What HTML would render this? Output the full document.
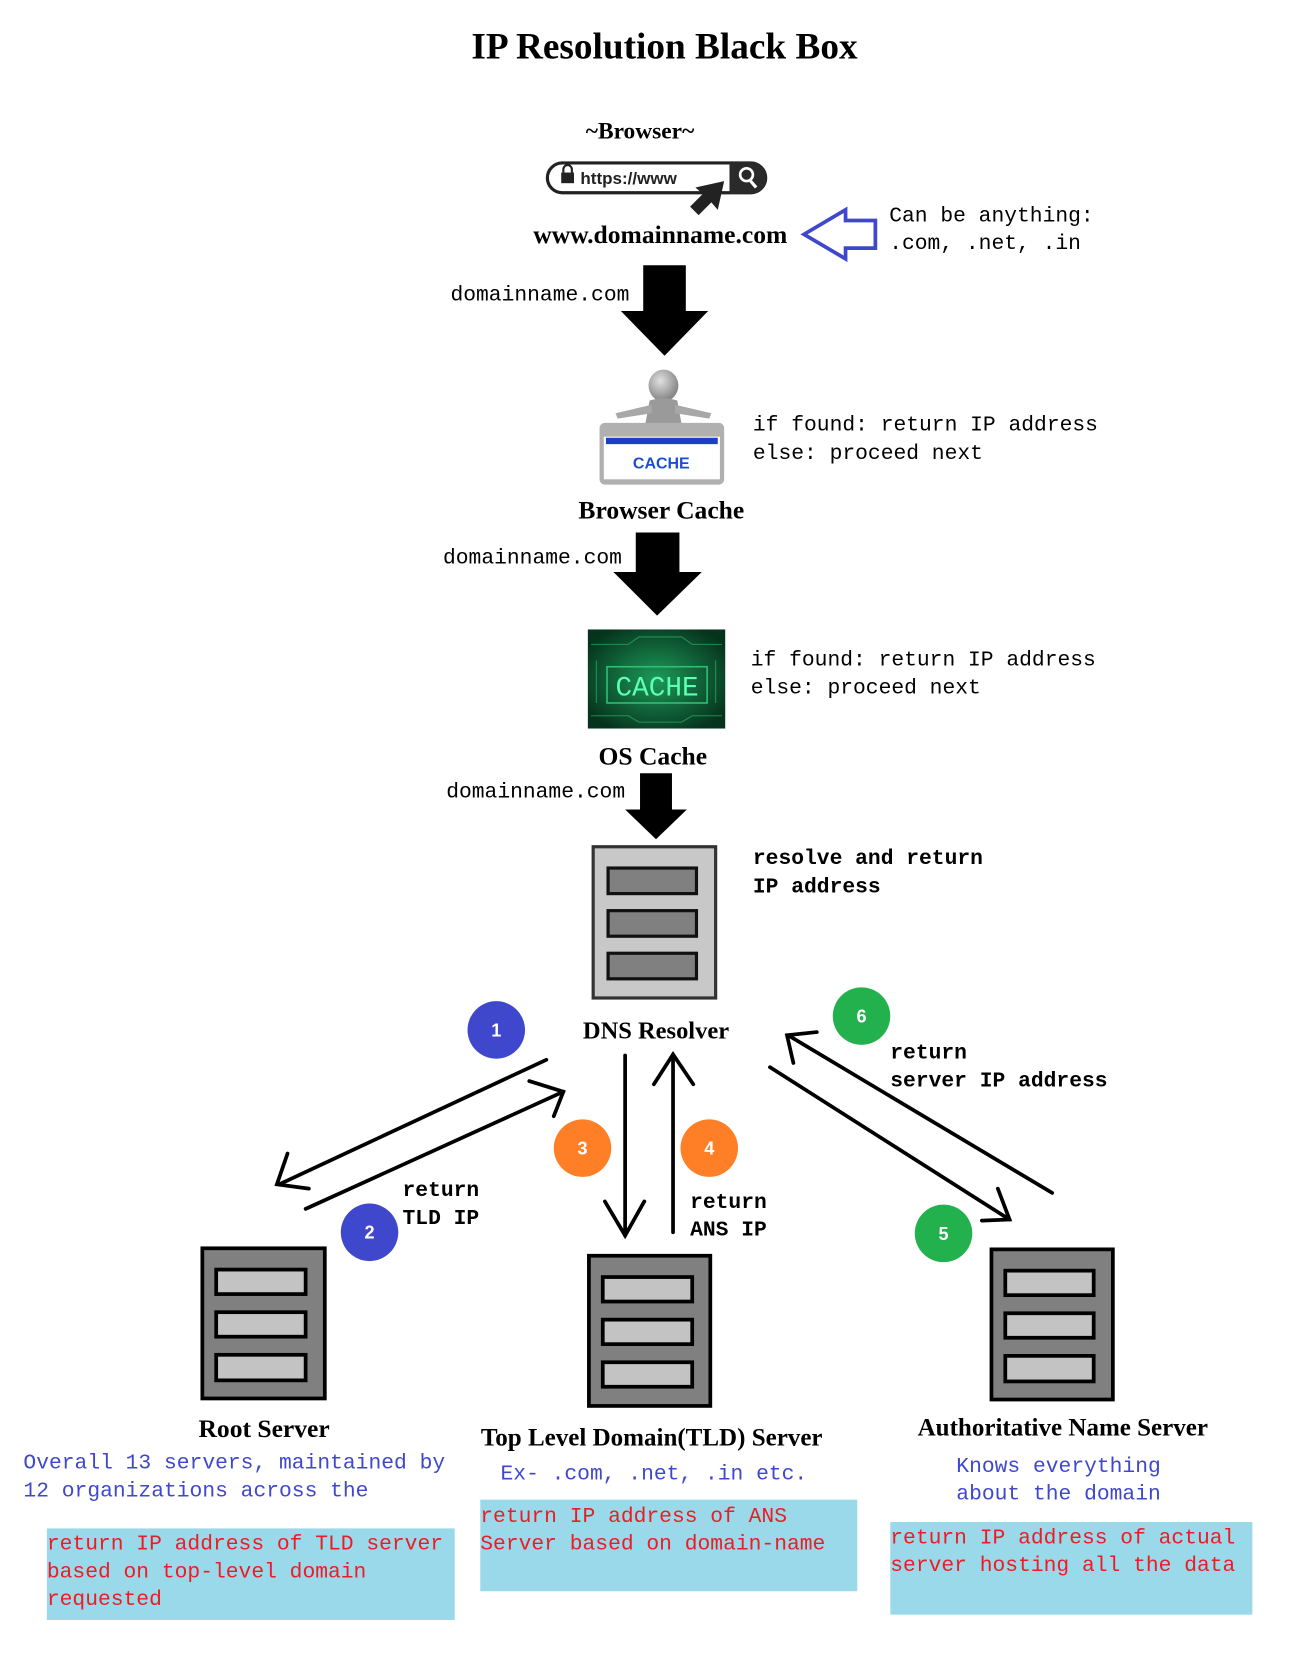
<!DOCTYPE html>
<html><head><meta charset="utf-8"><style>
html,body{margin:0;padding:0;background:#fff;}
svg{display:block;}
.ser{font-family:"Liberation Serif",serif;font-weight:bold;fill:#000;}
.mono{font-family:"Liberation Mono",monospace;font-size:20px;}
</style></head><body>
<svg width="1312" height="1669" viewBox="0 0 1232 1567" preserveAspectRatio="none" xmlns="http://www.w3.org/2000/svg">
<defs>
<radialGradient id="g1" cx="50%" cy="50%" r="60%"><stop offset="0" stop-color="#1c9a5a"/><stop offset="1" stop-color="#06331c"/></radialGradient>
<radialGradient id="hd" cx="40%" cy="35%" r="60%"><stop offset="0" stop-color="#e0e0e0"/><stop offset="1" stop-color="#8a8a8a"/></radialGradient>
</defs>
<text x="624" y="55" text-anchor="middle" class="ser" font-size="35">IP Resolution Black Box</text>
<text x="601" y="130" text-anchor="middle" class="ser" font-size="22">~Browser~</text>
<!-- URL bar -->
<rect x="514" y="153" width="205" height="28" rx="14" fill="#fff" stroke="#222" stroke-width="3"/>
<path d="M685 152 H705 A15 15 0 0 1 705 182 H685 Z" fill="#2a2a2a"/>
<circle cx="701" cy="164" r="6" fill="none" stroke="#fff" stroke-width="2.5"/>
<line x1="704" y1="169" x2="710" y2="176" stroke="#fff" stroke-width="3"/>
<rect x="527" y="162" width="12" height="10" fill="#222"/>
<path d="M529 162 v-3 a4 4 0 0 1 8 0 v3" fill="none" stroke="#222" stroke-width="2"/>
<text x="545" y="173" font-family="Liberation Sans,sans-serif" font-weight="bold" font-size="16" fill="#222">https://www</text>
<path d="M680 170 L674 197 L668 190 L656 202 L648 194 L660 182 L653 176 Z" fill="#222"/>
<text x="620" y="228" text-anchor="middle" class="ser" font-size="24">www.domainname.com</text>
<!-- blue hollow arrow -->
<path d="M755 220 L794 197 L794 207 L822 207 L822 233 L794 233 L794 243 Z" fill="#fff" stroke="#3f48cc" stroke-width="3.5"/>
<text x="835" y="208" class="mono">Can be anything:</text>
<text x="835" y="234" class="mono">.com, .net, .in</text>
<!-- arrow 1 -->
<path d="M604 249 H644 V292 H665 L624 334 L583 292 H604 Z" fill="#000"/>
<text x="423" y="282" class="mono">domainname.com</text>
<!-- browser cache icon -->
<ellipse cx="623" cy="362" rx="14" ry="15" fill="url(#hd)"/>
<path d="M610 376 Q623 372 636 376 L640 398 H606 Z" fill="#9a9a9a"/>
<path d="M612 380 L578 388 L580 393 L612 388 Z M634 380 L668 388 L666 393 L634 388 Z" fill="#a8a8a8"/>
<rect x="563" y="397" width="117" height="58" rx="5" fill="#b0b0b0"/>
<rect x="567" y="410" width="109" height="40" fill="#fff"/>
<rect x="569" y="411" width="105" height="6" fill="#1a3fc4"/>
<text x="621" y="440" text-anchor="middle" font-family="Liberation Sans,sans-serif" font-weight="bold" font-size="15" fill="#1a4fd0">CACHE</text>
<text x="707" y="404" class="mono">if found: return IP address</text>
<text x="707" y="431" class="mono">else: proceed next</text>
<text x="621" y="487" text-anchor="middle" class="ser" font-size="24">Browser Cache</text>
<!-- arrow 2 -->
<path d="M597 500 H638 V537 H659 L617 578 L576 537 H597 Z" fill="#000"/>
<text x="416" y="529" class="mono">domainname.com</text>
<!-- OS cache -->
<rect x="552" y="591" width="129" height="93" fill="url(#g1)"/>
<g stroke="#2fbf73" stroke-width="1" fill="none" opacity="0.6">
<path d="M555 605 H590 L600 598 H640 L650 605 H678"/><path d="M555 672 H590 L600 678 H640 L650 672 H678"/>
<path d="M560 620 V660"/><path d="M672 620 V660"/>
</g>
<rect x="570" y="626" width="94" height="34" fill="none" stroke="#2fbf73" stroke-width="1.5"/>
<text x="617" y="653" text-anchor="middle" font-family="Liberation Mono,monospace" font-size="26" fill="#5dffb0">CACHE</text>
<text x="705" y="625" class="mono">if found: return IP address</text>
<text x="705" y="651" class="mono">else: proceed next</text>
<text x="613" y="718" text-anchor="middle" class="ser" font-size="24">OS Cache</text>
<!-- arrow 3 -->
<path d="M601 726 H631 V760 H645 L616 788 L587 760 H601 Z" fill="#000"/>
<text x="419" y="749" class="mono">domainname.com</text>
<!-- DNS resolver -->
<rect x="557" y="795" width="115" height="142" fill="#c8c8c8" stroke="#333" stroke-width="3"/>
<rect x="571" y="815" width="83" height="24" fill="#808080" stroke="#111" stroke-width="3"/>
<rect x="571" y="855" width="83" height="24" fill="#808080" stroke="#111" stroke-width="3"/>
<rect x="571" y="895" width="83" height="24" fill="#808080" stroke="#111" stroke-width="3"/>
<text x="707" y="811" class="mono" font-weight="bold">resolve and return</text>
<text x="707" y="838" class="mono" font-weight="bold">IP address</text>
<text x="616" y="975" text-anchor="middle" class="ser" font-size="23">DNS Resolver</text>
<!-- connectors -->
<g stroke="#000" stroke-width="3.5" fill="none" stroke-linecap="round">
<line x1="513" y1="995" x2="262" y2="1112"/><polyline points="270,1083 260,1112 290,1116"/>
<line x1="287" y1="1135" x2="529" y2="1025"/><polyline points="497,1015 529,1025 520,1048"/>
<line x1="587" y1="991" x2="587" y2="1160"/><polyline points="568,1128 587,1160 605,1128"/>
<line x1="632" y1="1157" x2="632" y2="990"/><polyline points="614,1018 632,990 651,1018"/>
<line x1="988" y1="1120" x2="740" y2="972"/><polyline points="745,998 739,972 767,969"/>
<line x1="723" y1="1002" x2="948" y2="1145"/><polyline points="937,1116 948,1145 922,1146"/>
</g>
<!-- circles -->
<g font-family="Liberation Sans,sans-serif" font-weight="bold" font-size="17" fill="#fff" text-anchor="middle">
<circle cx="466" cy="967" r="27" fill="#3f48cc"/><text x="466" y="973">1</text>
<circle cx="809" cy="954" r="27" fill="#22b14c"/><text x="809" y="960">6</text>
<circle cx="547" cy="1078" r="27" fill="#ff7f27"/><text x="547" y="1084">3</text>
<circle cx="666" cy="1078" r="27" fill="#ff7f27"/><text x="666" y="1084">4</text>
<circle cx="347" cy="1157" r="27" fill="#3f48cc"/><text x="347" y="1163">2</text>
<circle cx="886" cy="1158" r="27" fill="#22b14c"/><text x="886" y="1164">5</text>
</g>
<text x="836" y="994" class="mono" font-weight="bold">return</text>
<text x="836" y="1020" class="mono" font-weight="bold">server IP address</text>
<text x="378" y="1123" class="mono" font-weight="bold">return</text>
<text x="378" y="1149" class="mono" font-weight="bold">TLD IP</text>
<text x="648" y="1134" class="mono" font-weight="bold">return</text>
<text x="648" y="1160" class="mono" font-weight="bold">ANS IP</text>
<!-- bottom servers -->
<g stroke="#000" stroke-width="3.5">
<rect x="190" y="1172" width="115" height="141" fill="#808080"/>
<rect x="203" y="1192" width="84" height="23" fill="#c3c3c3"/>
<rect x="203" y="1232" width="84" height="23" fill="#c3c3c3"/>
<rect x="203" y="1272" width="84" height="24" fill="#c3c3c3"/>
<rect x="553" y="1179" width="114" height="141" fill="#808080"/>
<rect x="566" y="1199" width="84" height="23" fill="#c3c3c3"/>
<rect x="566" y="1239" width="84" height="23" fill="#c3c3c3"/>
<rect x="566" y="1279" width="84" height="23" fill="#c3c3c3"/>
<rect x="931" y="1173" width="114" height="141" fill="#808080"/>
<rect x="944" y="1193" width="83" height="23" fill="#c3c3c3"/>
<rect x="944" y="1233" width="83" height="23" fill="#c3c3c3"/>
<rect x="944" y="1273" width="83" height="24" fill="#c3c3c3"/>
</g>
<text x="248" y="1349" text-anchor="middle" class="ser" font-size="24">Root Server</text>
<text x="612" y="1357" text-anchor="middle" class="ser" font-size="23.5">Top Level Domain(TLD) Server</text>
<text x="998" y="1348" text-anchor="middle" class="ser" font-size="23.5">Authoritative Name Server</text>
<g class="mono" fill="#3f48cc">
<text x="22" y="1379">Overall 13 servers, maintained by</text>
<text x="22" y="1405">12 organizations across the</text>
<text x="470" y="1389">Ex- .com, .net, .in etc.</text>
<text x="898" y="1382">Knows everything</text>
<text x="898" y="1408">about the domain</text>
</g>
<rect x="44" y="1435" width="383" height="86" fill="#99d9ea"/>
<rect x="451" y="1408" width="354" height="86" fill="#99d9ea"/>
<rect x="836" y="1429" width="340" height="87" fill="#99d9ea"/>
<g class="mono" fill="#ed1c24">
<text x="44" y="1455">return IP address of TLD server</text>
<text x="44" y="1481">based on top-level domain</text>
<text x="44" y="1507">requested</text>
<text x="451" y="1429">return IP address of ANS</text>
<text x="451" y="1455">Server based on domain-name</text>
<text x="836" y="1449">return IP address of actual</text>
<text x="836" y="1475">server hosting all the data</text>
</g>
</svg>
</body></html>
